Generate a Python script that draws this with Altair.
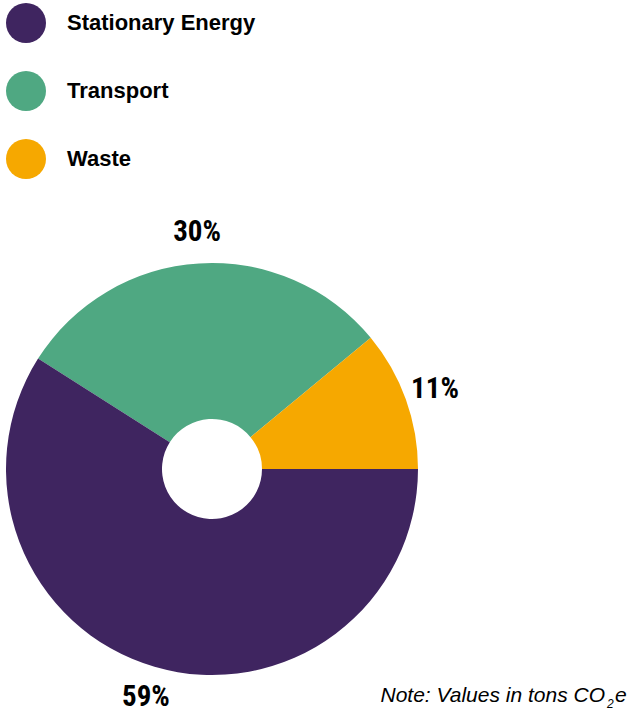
import math
import altair as alt
import pandas as pd

categories = ["Transport", "Waste", "Stationary Energy"]
shares = [30, 11, 59]
labels = ["30%", "11%", "59%"]
order = [1, 2, 3]
legend_order = ["Stationary Energy", "Transport", "Waste"]
colors = ["#3F2560", "#4FA882", "#F6A800"]

df = pd.DataFrame({"cat": categories, "share": shares, "label": labels, "ord": order})

start = -57.6 * math.pi / 180
cx, cy = 212, 469

theta = alt.Theta("share:Q", stack=True, scale=alt.Scale(range=[start, start + 2 * math.pi]))
color = alt.Color(
    "cat:N",
    scale=alt.Scale(domain=legend_order, range=colors),
    legend=alt.Legend(
        title=None, orient="none", legendX=6, legendY=3,
        symbolType="circle", symbolSize=1600, symbolStrokeWidth=0,
        labelFont="Liberation Sans", labelFontWeight="bold", labelFontSize=22,
        labelColor="#000000", labelOffset=21, rowPadding=28, labelLimit=0,
    ),
)

base = alt.Chart(df).encode(
    theta=theta,
    order=alt.Order("ord:Q"),
    x=alt.value(cx),
    y=alt.value(cy),
)

arcs = base.mark_arc(outerRadius=206, innerRadius=50, stroke=None).encode(color=color)
texts = base.mark_text(
    radius=237,
    font="Roboto Condensed, DejaVu Sans Condensed, Liberation Sans Narrow, Roboto, sans-serif",
    fontWeight="bold", fontSize=29,
    color="#000000", align="center", baseline="middle",
).encode(text="label:N")

nfont = "Liberation Sans, Arial, sans-serif"
note = alt.Chart(pd.DataFrame({"t": ["Note: Values in tons CO"]})).mark_text(
    font=nfont, fontStyle="italic", fontSize=21, align="right",
    baseline="alphabetic", color="#000000",
).encode(text="t:N", x=alt.value(605), y=alt.value(702))
sub = alt.Chart(pd.DataFrame({"t": ["2"]})).mark_text(
    font=nfont, fontStyle="italic", fontSize=12, align="left",
    baseline="alphabetic", color="#000000",
).encode(text="t:N", x=alt.value(607), y=alt.value(708))
e = alt.Chart(pd.DataFrame({"t": ["e"]})).mark_text(
    font=nfont, fontStyle="italic", fontSize=21, align="left",
    baseline="alphabetic", color="#000000",
).encode(text="t:N", x=alt.value(615), y=alt.value(702))

chart = alt.layer(arcs, texts, note, sub, e).properties(
    width=630, height=713, padding=0,
    autosize=alt.AutoSizeParams(type="none"),
).configure_view(stroke=None)

chart.save("out.html", embed_options={"renderer": "svg", "actions": False})
